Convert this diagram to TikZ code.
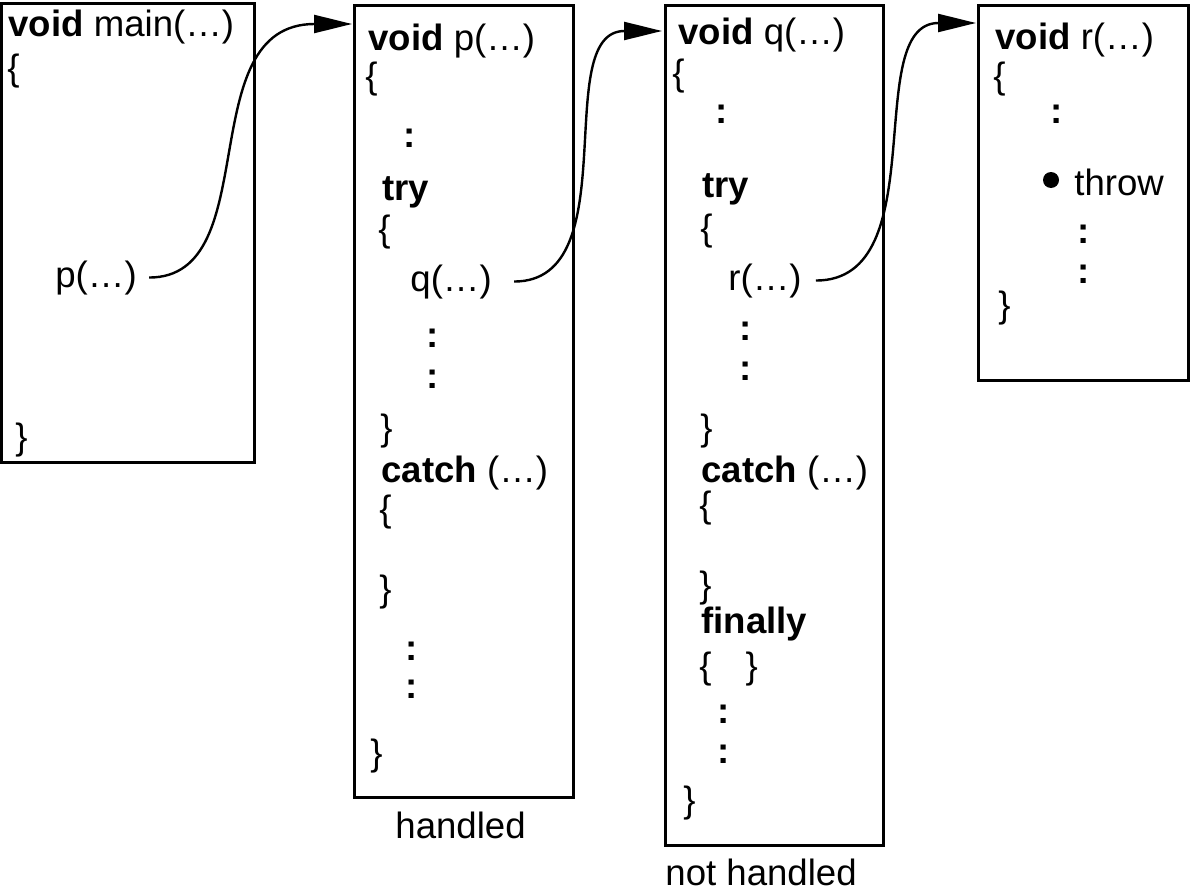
\documentclass[tikz,border=0pt]{standalone}
\usepackage{fontspec}
\setmainfont{Liberation Sans}
\usetikzlibrary{arrows.meta}

\tikzset{
  code/.style={anchor=base west, inner sep=0pt, font=\fontsize{18.3}{22}\selectfont},
  codebox/.style={draw, line width=1.5pt},
  callarrow/.style={line width=1.2pt, -{Triangle[length=19pt,width=9pt]}},
}
\newcommand{\kw}[1]{\textbf{#1}}
\newcommand{\vdot}{\textbf{:}}

\begin{document}
\begin{tikzpicture}[x=0.5pt, y=-0.5pt]
\useasboundingbox (0,0) rectangle (1191,894);

% boxes
\draw[codebox] (1,3) rectangle (254,462);
\draw[codebox] (354,5) rectangle (573,797);
\draw[codebox] (665,5) rectangle (883,845);
\draw[codebox] (978,5) rectangle (1188,380);

% main
\node[code] (mainhead) at (8,36) {\kw{void} main(…)};
\node[code] (mainopen) at (7,81) {\{};
\node[code] (pcall) at (55,287) {p(…)};
\node[code] (mainclose) at (15,449) {\}};

% p
\node[code] (phead) at (368,50) {\kw{void} p(…)};
\node[code] (popen) at (365,89) {\{};
\node[code] (pdots) at (403,148) {\vdot};
\node[code] (ptry) at (382,200) {\kw{try}};
\node[code] (ptryopen) at (378,241) {\{};
\node[code] (qcall) at (410,291) {q(…)};
\node[code] (ptrydotsa) at (426,347) {\vdot};
\node[code] (ptrydotsb) at (426,388) {\vdot};
\node[code] (ptryclose) at (380,440) {\}};
\node[code] (pcatch) at (381,482) {\kw{catch} (…)};
\node[code] (pcatchopen) at (379,521) {\{};
\node[code] (pcatchclose) at (379,601) {\}};
\node[code] (pdotsa) at (405,660) {\vdot};
\node[code] (pdotsb) at (405,698) {\vdot};
\node[code] (pclose) at (370,765) {\}};
\node[code] (handled) at (395,838) {handled};

% q
\node[code] (qhead) at (678,44) {\kw{void} q(…)};
\node[code] (qopen) at (672,85) {\{};
\node[code] (qdots) at (715,123) {\vdot};
\node[code] (qtry) at (702,197) {\kw{try}};
\node[code] (qtryopen) at (700,240) {\{};
\node[code] (rcall) at (728,290) {r(…)};
\node[code] (qtrydotsa) at (739,340) {\vdot};
\node[code] (qtrydotsb) at (739,380) {\vdot};
\node[code] (qtryclose) at (700,440) {\}};
\node[code] (qcatch) at (701,482) {\kw{catch} (…)};
\node[code] (qcatchopen) at (699,517) {\{};
\node[code] (qcatchclose) at (699,597) {\}};
\node[code] (qfinally) at (701,633) {\kw{finally}};
\node[code] (qfinblock) at (699,678) {\{\hspace{0.93em}\}};
\node[code] (qdotsa) at (717,723) {\vdot};
\node[code] (qdotsb) at (717,763) {\vdot};
\node[code] (qclose) at (683,812) {\}};
\node[code] (nothandled) at (665,885) {not handled};

% r
\node[code] (rhead) at (995,49) {\kw{void} r(…)};
\node[code] (ropen) at (993,88) {\{};
\node[code] (rdots) at (1050,123) {\vdot};
\node[circle, fill, inner sep=0pt, minimum size=8pt] (throwdot) at (1051,180) {};
\node[code] (throw) at (1074,195) {throw};
\node[code] (rdotsa) at (1077,243) {\vdot};
\node[code] (rdotsb) at (1077,283) {\vdot};
\node[code] (rclose) at (998,317) {\}};

% calls
\coordinate (pentry) at (352,24);
\coordinate (qentry) at (662,31);
\coordinate (rentry) at (976,23);

\draw[callarrow, shorten <=6pt] (pcall.east) to[out=0, in=180, out looseness=1.0, in looseness=1.25] (pentry);
\draw[callarrow, shorten <=11pt] (qcall.east) to[out=0, in=180, out looseness=1.15, in looseness=0.95] (qentry);
\draw[callarrow, shorten <=7pt] (rcall.east) to[out=0, in=180, out looseness=1.1, in looseness=0.95] (rentry);

\end{tikzpicture}
\end{document}
